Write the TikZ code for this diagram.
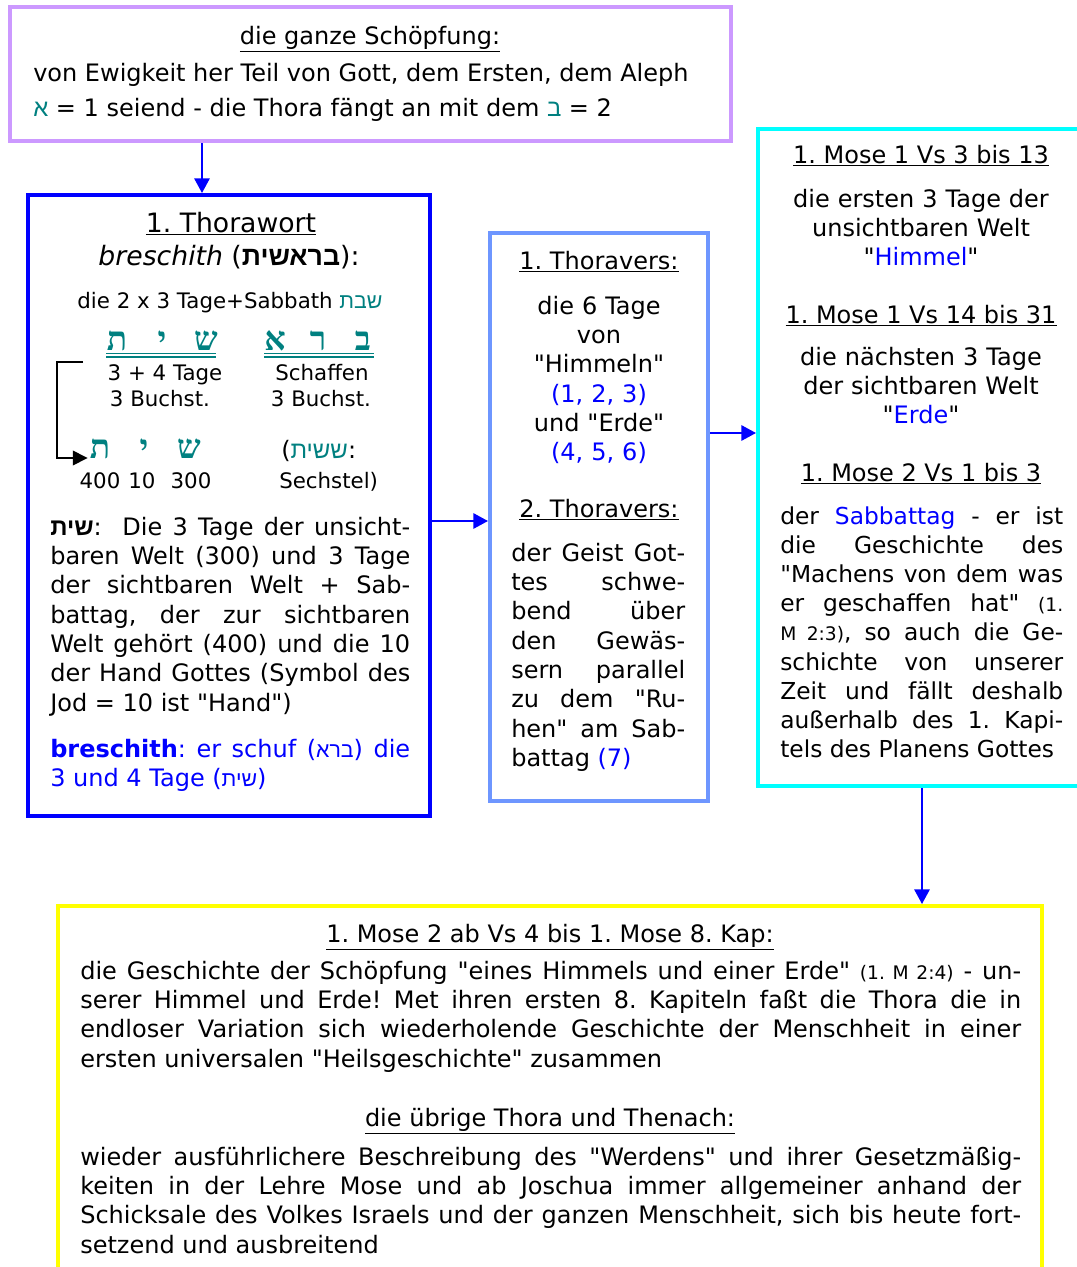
\documentclass[tikz,border=0pt]{standalone}
\usepackage{fontspec}
\setmainfont{DejaVu Sans}[Ligatures=TeXOff]
\newfontfamily\hebr[Script=Hebrew]{Liberation Sans}
\newfontfamily\hebrser[Script=Hebrew]{Liberation Serif}
\usetikzlibrary{arrows.meta,fit}
\TeXXeTstate=1
\tolerance=10000
\hbadness=10000
\hyphenpenalty=10000
\frenchspacing

\definecolor{tuerkis}{RGB}{0,128,128}
\definecolor{blau}{RGB}{0,0,255}
\definecolor{lila}{RGB}{204,153,255}
\definecolor{hellblau}{RGB}{110,150,255}
\definecolor{zyan}{RGB}{0,255,255}
\definecolor{gelb}{RGB}{255,255,0}

\newcommand{\hebrwort}[1]{{\hebr\beginR#1\endR}}
\newcommand{\tuerk}[1]{\textcolor{tuerkis}{#1}}
\newcommand{\blautext}[1]{\textcolor{blau}{#1}}
\newcommand{\kleintext}{\fontsize{14}{22}\selectfont}

\begin{document}
\begin{tikzpicture}[x=0.75pt,y=0.75pt,yscale=-1,xscale=1,
  kasten/.style={draw, line width=3pt, inner sep=0pt},
  txt/.style={font=\fontsize{18}{22}\selectfont, inner sep=0pt, anchor=base},
  absatz/.style={txt, anchor=base west, align=justify},
  mitte/.style={txt, align=center},
  klein/.style={txt, font=\fontsize{16}{22}\selectfont},
  buchstabe/.style={font=\hebrser\bfseries\fontsize{25}{26}\selectfont, text=tuerkis, inner sep=0pt, anchor=base},
  pfeil/.style={draw=blau, line width=1.5pt, -{Triangle[length=11pt,width=11.5pt]}},
  strich/.style={draw=tuerkis, line width=1.1pt}]
   	\useasboundingbox (0,0) rectangle (1076,1267);
   	
   	% Rahmen
   	\node[kasten, draw=lila, fit={(10,7) (731,141)}] (schoepfung) {};
   	\node[kasten, draw=blau, fit={(28,195) (430,816)}] (thorawort) {};
   	\node[kasten, draw=hellblau, fit={(490,233) (708,801)}] (thoravers) {};
   	\node[kasten, draw=zyan, fit={(758,129) (1084,786)}] (mose) {};
   	\node[kasten, draw=gelb, fit={(58,906) (1042,1280)}] (thenach) {};
   	
   	% die ganze Schoepfung
   	\node[txt] (schoepftitel) at (370,44) {\underline{die ganze Schöpfung:}};
   	\node[txt, anchor=base west] (schoepfzeile1) at (33,81) {von Ewigkeit her Teil von Gott, dem Ersten, dem Aleph};
   	\node[txt, anchor=base west] (schoepfzeile2) at (33,116) {\tuerk{\hebrwort{א}} = 1 seiend - die Thora fängt an mit dem \tuerk{\hebrwort{ב}} = 2};
   	
   	% 1. Thorawort
   	\node[txt, font=\fontsize{20}{24}\selectfont] (worttitel) at (231,232) {\underline{1. Thorawort}};
   	\node[txt, font=\fontsize{20}{24}\selectfont] (breschith) at (229,265) {\textit{breschith} (\textbf{\hebrwort{בראשית}}):};
   	\node[klein] (sabbath) at (230,308) {die 2 x 3 Tage+Sabbath \tuerk{\hebrwort{שבת}}};
   	
   	\node[buchstabe] (tav1) at (117,350) {ת};
   	\node[buchstabe] (jod1) at (162,350) {י};
   	\node[buchstabe] (schin1) at (206,350) {ש};
   	\node[buchstabe] (alef1) at (275,350) {א};
   	\node[buchstabe] (resch1) at (318,350) {ר};
   	\node[buchstabe] (bet1) at (363,350) {ב};
   	\draw[strich] (106,353.5) -- (216,353.5);
   	\draw[strich] (106,357) -- (216,357);
   	\draw[strich] (264,353.5) -- (374,353.5);
   	\draw[strich] (264,357) -- (374,357);
   	
   	\node[klein] (tage) at (165,380) {3 + 4 Tage};
   	\node[klein] (buchst1) at (160,406) {3 Buchst.};
   	\node[klein] (schaffen) at (322,380) {Schaffen};
   	\node[klein] (buchst2) at (321,406) {3 Buchst.};
   	
   	\node[buchstabe] (tav2) at (100,458) {ת};
   	\node[buchstabe] (jod2) at (144,458) {י};
   	\node[buchstabe] (schin2) at (189,458) {ש};
   	\node[txt, anchor=base west] (sechstel1) at (281,458) {(\tuerk{\hebrwort{ששית}}:};
   	
   	\node[klein] (vierhundert) at (100,488) {400};
   	\node[klein] (zehn) at (142,488) {10};
   	\node[klein] (dreihundert) at (191,488) {300};
   	\node[klein, anchor=base west] (sechstel2) at (279,488) {Sechstel)};
   	
   	\coordinate (klammer) at (83,362);
   	\draw[line width=1pt, -{Triangle[length=11pt,width=11pt]}] (klammer) -- (57,362) |- ([xshift=-1.5pt]tav2.base west);
   	
   	\node[absatz, text width=270pt] (schit) at (50,535) {\textbf{\hebrwort{שית}}:~ Die 3 Tage der unsicht-\linebreak
   	baren Welt (300) und 3 Tage\linebreak
   	der sichtbaren Welt + Sab-\linebreak
   	battag, der zur sichtbaren\linebreak
   	Welt gehört (400) und die 10\linebreak
   	der Hand Gottes (Symbol des\linebreak
   	Jod = 10 ist "Hand")};
   	\node[absatz, text width=270pt, text=blau] (schuf) at (50,757) {\textbf{breschith}: er schuf ({\fontsize{16}{22}\selectfont\hebrwort{ברא}}) die\linebreak
   	3 und 4 Tage ({\fontsize{16}{22}\selectfont\hebrwort{שית}})};
   	
   	% Thoraverse
   	\node[txt] (verstitel1) at (599,269) {\underline{1. Thoravers:}};
   	\node[mitte, text width=160pt] (verstext1) at (599,314) {die 6 Tage\\ von\\ "Himmeln"\\ \blautext{(1, 2, 3)}\\ und "Erde"\\ \blautext{(4, 5, 6)}};
   	\node[txt] (verstitel2) at (599,517) {\underline{2. Thoravers:}};
   	\node[absatz, text width=130.5pt] (verstext2) at (511,561) {der Geist Got-\linebreak
   	tes schwe-\linebreak
   	bend über\linebreak
   	den Gewäs-\linebreak
   	sern parallel\linebreak
   	zu dem "Ru-\linebreak
   	hen" am Sab-\linebreak
   	battag \blautext{(7)}};
   	
   	% 1. Mose
   	\node[txt] (mosetitel1) at (921,163) {\underline{1. Mose 1 Vs 3 bis 13}};
   	\node[mitte, text width=230pt] (mosetext1) at (921,207) {die ersten 3 Tage der\\ unsichtbaren Welt\\ "\blautext{Himmel}"};
   	\node[txt] (mosetitel2) at (921,323) {\underline{1. Mose 1 Vs 14 bis 31}};
   	\node[mitte, text width=230pt] (mosetext2) at (921,365) {die nächsten 3 Tage\\ der sichtbaren Welt\\ "\blautext{Erde}"};
   	\node[txt] (mosetitel3) at (921,481) {\underline{1. Mose 2 Vs 1 bis 3}};
   	\node[absatz, text width=212.25pt, font=\fontsize{17.5}{21.9}\selectfont] (mosetext3) at (780,524) {der \blautext{Sabbattag} - er ist\linebreak
   	die Geschichte des\linebreak
   	"Machens von dem was\linebreak
   	er geschaffen hat" {\kleintext(1.}\linebreak
   	{\kleintext M 2:3)}, so auch die Ge-\linebreak
   	schichte von unserer\linebreak
   	Zeit und fällt deshalb\linebreak
   	außerhalb des 1. Kapi-\linebreak
   	tels des Planens Gottes};
   	
   	% Thora und Thenach
   	\node[txt] (thenachtitel1) at (550,942) {\underline{1. Mose 2 ab Vs 4 bis 1. Mose 8. Kap:}};
   	\node[absatz, text width=705.75pt] (thenachtext1) at (80,979) {die Geschichte der Schöpfung "eines Himmels und einer Erde" {\kleintext (1. M 2:4)} - un-\linebreak
   	serer Himmel und Erde! Met ihren ersten 8. Kapiteln faßt die Thora die in\linebreak
   	endloser Variation sich wiederholende Geschichte der Menschheit in einer\linebreak
   	ersten universalen "Heilsgeschichte" zusammen};
   	\node[txt] (thenachtitel2) at (550,1126) {\underline{die übrige Thora und Thenach:}};
   	\node[absatz, text width=705.75pt] (thenachtext2) at (80,1165) {wieder ausführlichere Beschreibung des "Werdens" und ihrer Gesetzmäßig-\linebreak
   	keiten in der Lehre Mose und ab Joschua immer allgemeiner anhand der\linebreak
   	Schicksale des Volkes Israels und der ganzen Menschheit, sich bis heute fort-\linebreak
   	setzend und ausbreitend};
   	
   	% Pfeile
   	\coordinate (p1) at (202,0);
   	\coordinate (p2) at (0,521);
   	\coordinate (p3) at (0,433);
   	\coordinate (p4) at (922,0);
   	\draw[pfeil] (schoepfung.south -| p1) -- (thorawort.north -| p1);
   	\draw[pfeil] (thorawort.east |- p2) -- (thoravers.west |- p2);
   	\draw[pfeil] (thoravers.east |- p3) -- (mose.west |- p3);
   	\draw[pfeil] (mose.south -| p4) -- (thenach.north -| p4);
   	
\end{tikzpicture}
\end{document}
